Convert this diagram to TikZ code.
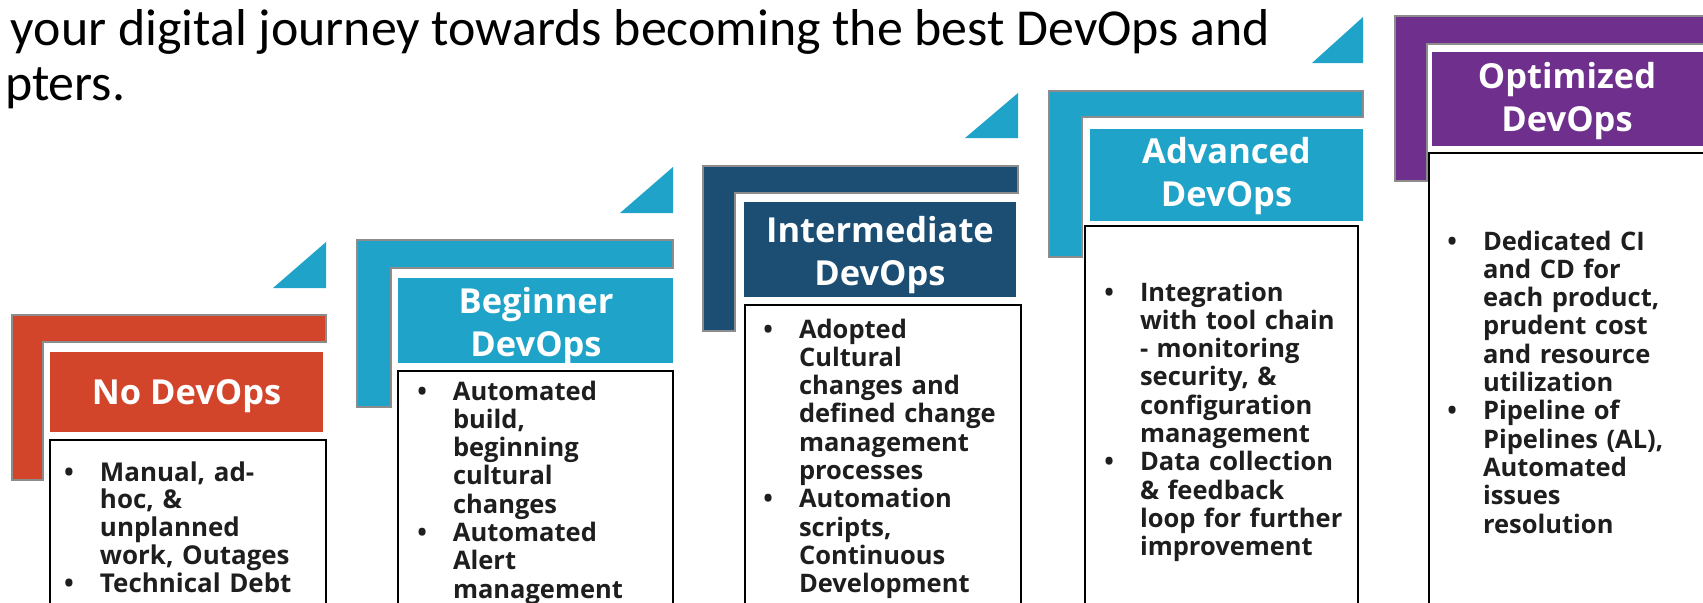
\documentclass[tikz,border=0pt]{standalone}
\usepackage{fontspec}
\setmainfont{Open Sans}
\newfontfamily\introfont{Carlito}
\usetikzlibrary{positioning}
\definecolor{niveaurouge}{HTML}{D3452A}
\definecolor{niveaubleu}{HTML}{1FA3C8}
\definecolor{niveaumarine}{HTML}{1B4E72}
\definecolor{niveauviolet}{HTML}{6E2F8D}
\definecolor{bordgris}{HTML}{8C8C8C}
\definecolor{textegris}{HTML}{1E1E1E}
\newcommand{\puce}{\leavevmode\llap{\textbullet\hspace{0.26cm}}}

\begin{document}
\begin{tikzpicture}[x=0.01cm, y=-0.01cm,
    every node/.style={inner sep=0pt, outer sep=0pt},
    equerre/.style={draw=bordgris, line width=0.35pt},
    cadre/.style={draw=black, line width=0.6pt, fill=white},
    titre/.style={font=\fontsize{9.8}{12.1}\selectfont\bfseries, text=white, align=center, anchor=base},
    puces/.style={font=\fontsize{7.25}{8.05}\selectfont\bfseries, text=textegris, text width=2.3cm, align=left, anchor=base west,
      execute at begin node={\lineskiplimit=-20pt}}]

  \useasboundingbox (0,0) rectangle (1703,602);
  \clip (0,0) rectangle (1703,602);

  % Phrase d'introduction
  \node[font=\introfont\fontsize{14.75}{15.6}\selectfont, anchor=base west] (intro1) at (11,45) {your digital journey towards becoming the best DevOps and};
  \node[font=\introfont\fontsize{14.75}{15.6}\selectfont, anchor=base west] (intro2) at (5,100) {pters.};

  % Niveau 1 : No DevOps
  \filldraw[equerre, fill=niveaurouge] (12,315) -- (326,315) -- (326,342) -- (43,342) -- (43,480) -- (12,480) -- cycle;
  \fill[niveaurouge] (50,352) rectangle (323,432);
  \node[titre] (niv1) at (186.5,404) {No DevOps};
  \draw[cadre] (50,620) -- (50,440) -- (326,440) -- (326,620);
  \node[puces, font=\fontsize{7.37}{7.95}\selectfont\bfseries] (puces1) at (100,481)
    {\puce Manual, ad-\\hoc, \&\\unplanned\\work, Outages\\\puce Technical Debt};
  \fill[niveaubleu] (273,288) -- (326,288) -- (326,242) -- cycle;

  % Niveau 2 : Beginner
  \filldraw[equerre, fill=niveaubleu] (357,240) -- (673,240) -- (673,268) -- (391,268) -- (391,407) -- (357,407) -- cycle;
  \fill[niveaubleu] (398,278) rectangle (673,363);
  \node[titre] (niv2) at (536,356) {Beginner\\DevOps};
  \draw[cadre] (398,620) -- (398,371) -- (673,371) -- (673,620);
  \node[puces] (puces2) at (453,400)
    {\puce Automated\\build,\\beginning\\cultural\\changes\\\puce Automated\\Alert\\management};
  \fill[niveaubleu] (620,213) -- (673,213) -- (673,167) -- cycle;

  % Niveau 3 : Intermediate
  \filldraw[equerre, fill=niveaumarine] (703,166) -- (1018,166) -- (1018,193) -- (735,193) -- (735,331) -- (703,331) -- cycle;
  \fill[niveaumarine] (744,202) rectangle (1016,297);
  \node[titre] (niv3) at (880,285) {Intermediate\\DevOps};
  \draw[cadre] (745,620) -- (745,305) -- (1021,305) -- (1021,620);
  \node[puces] (puces3) at (799,338)
    {\puce Adopted\\Cultural\\changes and\\defined change\\management\\processes\\\puce Automation\\scripts,\\Continuous\\Development};
  \fill[niveaubleu] (965,138) -- (1018,138) -- (1018,93) -- cycle;

  % Niveau 4 : Advanced
  \filldraw[equerre, fill=niveaubleu] (1049,91) -- (1363,91) -- (1363,117) -- (1082,117) -- (1082,257) -- (1049,257) -- cycle;
  \fill[niveaubleu] (1090,129) rectangle (1363,221);
  \node[titre] (niv4) at (1226.5,206) {Advanced\\DevOps};
  \draw[cadre] (1085,620) -- (1085,226) -- (1358,226) -- (1358,620);
  \node[puces] (puces4) at (1140,301)
    {\puce Integration\\with tool chain\\- monitoring\\security, \&\\configuration\\management\\\puce Data collection\\\& feedback\\loop for further\\improvement};
  \fill[niveaubleu] (1312,63) -- (1363,63) -- (1363,17) -- cycle;

  % Niveau 5 : Optimized
  \filldraw[equerre, fill=niveauviolet] (1395,16) -- (1710,16) -- (1710,44) -- (1427,44) -- (1427,181) -- (1395,181) -- cycle;
  \fill[niveauviolet] (1432,52) rectangle (1710,146);
  \node[titre] (niv5) at (1567,131) {Optimized\\DevOps};
  \draw[cadre] (1429,620) -- (1429,153) -- (1710,153);
  \node[puces] (puces5) at (1483,250)
    {\puce Dedicated CI\\and CD for\\each product,\\prudent cost\\and resource\\utilization\\\puce Pipeline of\\Pipelines (AL),\\Automated\\issues\\resolution};

\end{tikzpicture}
\end{document}
